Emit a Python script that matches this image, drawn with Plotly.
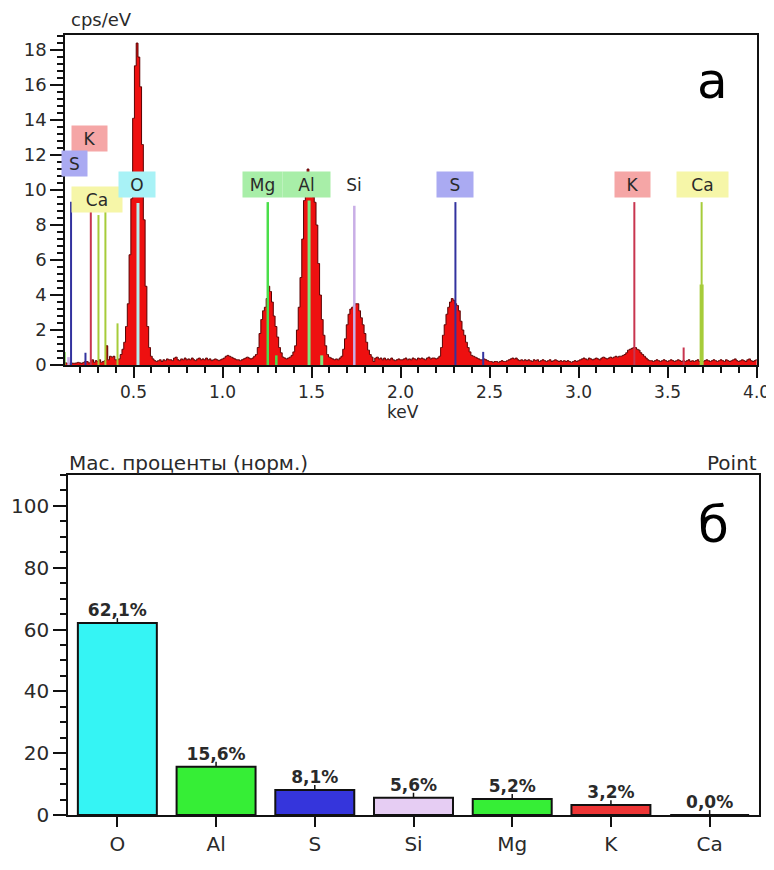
import plotly.graph_objects as go

# ---------------- DATA ----------------
# EDS spectrum, channel width 0.01 keV, first channel at 0.11 keV (cps/eV)
spec_start_kev = 0.11
spec_step_kev = 0.01
spectrum_cps = [
    0.15, 0.12, 0.10, 0.10, 0.12, 0.10, 0.10, 0.12, 0.15, 0.12,   # 0.11-0.20
    0.10, 0.15, 0.20, 0.20, 0.12, 0.15, 0.30, 0.15, 0.25, 0.20,   # 0.21-0.30
    0.30, 0.15, 0.20, 0.25, 1.10, 0.30, 0.50, 0.45, 0.50, 0.30,   # 0.31-0.40
    0.30, 0.35, 0.60, 0.90, 1.30, 2.20, 3.50, 6.30, 9.50, 14.1,   # 0.41-0.50
    17.1, 18.4, 17.6, 15.9, 12.6, 8.3, 4.5, 2.2, 1.00, 0.50,      # 0.51-0.60
    0.35, 0.25, 0.20, 0.25, 0.30, 0.20, 0.30, 0.25, 0.35, 0.30,   # 0.61-0.70
    0.30, 0.25, 0.40, 0.45, 0.30, 0.25, 0.35, 0.30, 0.40, 0.30,   # 0.71-0.80
    0.35, 0.30, 0.40, 0.30, 0.25, 0.35, 0.40, 0.30, 0.35, 0.30,   # 0.81-0.90
    0.40, 0.30, 0.35, 0.25, 0.30, 0.35, 0.30, 0.25, 0.30, 0.35,   # 0.91-1.00
    0.40, 0.50, 0.55, 0.50, 0.45, 0.40, 0.35, 0.30, 0.30, 0.25,   # 1.01-1.10
    0.30, 0.35, 0.40, 0.45, 0.40, 0.35, 0.40, 0.50, 0.60, 1.00,   # 1.11-1.20
    1.80, 2.60, 3.10, 3.30, 3.80, 4.50, 4.20, 3.60, 2.80, 2.20,   # 1.21-1.30
    1.60, 1.00, 0.70, 0.45, 0.40, 0.35, 0.40, 0.45, 0.55, 0.75,   # 1.31-1.40
    1.10, 2.00, 3.30, 5.00, 7.20, 9.40, 10.6, 11.2, 11.0, 10.3,   # 1.41-1.50
    9.60, 9.30, 8.00, 5.80, 4.00, 2.60, 1.70, 1.10, 0.60, 0.45,   # 1.51-1.60
    0.40, 0.35, 0.30, 0.35, 0.30, 0.40, 0.50, 0.90, 1.50, 2.30,   # 1.61-1.70
    2.90, 3.20, 3.30, 3.40, 3.50, 3.50, 3.10, 2.70, 2.30, 1.80,   # 1.71-1.80
    1.30, 0.85, 0.60, 0.45, 0.20, 0.40, 0.45, 0.35, 0.40, 0.30,   # 1.81-1.90
    0.40, 0.30, 0.35, 0.30, 0.40, 0.30, 0.25, 0.30, 0.35, 0.30,   # 1.91-2.00
    0.30, 0.35, 0.40, 0.30, 0.35, 0.30, 0.40, 0.35, 0.30, 0.40,   # 2.01-2.10
    0.35, 0.40, 0.35, 0.30, 0.40, 0.45, 0.35, 0.40, 0.40, 0.35,   # 2.11-2.20
    0.40, 0.50, 1.00, 1.70, 2.30, 2.90, 3.30, 3.60, 3.80, 3.70,   # 2.21-2.30
    3.50, 3.40, 3.10, 2.50, 2.00, 1.70, 1.30, 1.00, 0.75, 0.55,   # 2.31-2.40
    0.50, 0.45, 0.40, 0.35, 0.30, 0.30, 0.35, 0.30, 0.25, 0.20,   # 2.41-2.50
    0.20, 0.15, 0.20, 0.20, 0.15, 0.20, 0.25, 0.20, 0.20, 0.25,   # 2.51-2.60
    0.30, 0.35, 0.40, 0.35, 0.40, 0.30, 0.25, 0.30, 0.25, 0.30,   # 2.61-2.70
    0.25, 0.30, 0.25, 0.20, 0.30, 0.25, 0.30, 0.20, 0.25, 0.30,   # 2.71-2.80
    0.25, 0.20, 0.25, 0.30, 0.20, 0.25, 0.30, 0.25, 0.20, 0.25,   # 2.81-2.90
    0.20, 0.25, 0.20, 0.25, 0.20, 0.15, 0.20, 0.25, 0.20, 0.25,   # 2.91-3.00
    0.30, 0.35, 0.40, 0.35, 0.30, 0.40, 0.35, 0.30, 0.35, 0.40,   # 3.01-3.10
    0.35, 0.30, 0.40, 0.45, 0.40, 0.35, 0.40, 0.45, 0.40, 0.45,   # 3.11-3.20
    0.50, 0.45, 0.50, 0.50, 0.55, 0.60, 0.70, 0.85, 0.90, 0.95,   # 3.21-3.30
    1.00, 1.00, 0.90, 0.85, 0.70, 0.60, 0.50, 0.40, 0.30, 0.25,   # 3.31-3.40
    0.25, 0.20, 0.25, 0.30, 0.25, 0.20, 0.25, 0.30, 0.25, 0.20,   # 3.41-3.50
    0.25, 0.30, 0.25, 0.20, 0.25, 0.30, 0.25, 0.20, 0.25, 0.20,   # 3.51-3.60
    0.25, 0.30, 0.20, 0.25, 0.20, 0.25, 0.30, 0.20, 0.15, 0.20,   # 3.61-3.70
    0.25, 0.30, 0.25, 0.20, 0.25, 0.30, 0.25, 0.20, 0.25, 0.30,   # 3.71-3.80
    0.25, 0.20, 0.30, 0.25, 0.20, 0.25, 0.30, 0.35, 0.25, 0.20,   # 3.81-3.90
    0.25, 0.30, 0.25, 0.20, 0.30, 0.35, 0.25, 0.20, 0.25, 0.30,   # 3.91-4.00
]

# element line markers: energy (keV), marker height (cps/eV), element
line_energy = [0.113, 0.135, 0.149, 0.230, 0.260, 0.303, 0.342, 0.410, 0.525,
               1.254, 1.302, 1.486, 1.557, 1.740, 2.308, 2.464, 3.313, 3.590,
               3.691, 3.691]
line_height = [0.75, 0.45, 9.33, 0.70, 8.76, 8.57, 8.76, 2.38, 9.26,
               9.31, 0.55, 9.40, 0.55, 9.10, 9.31, 0.75, 9.31, 1.00,
               9.31, 4.60]
line_element = ["C", "Si", "S", "S", "K", "Ca", "Ca", "Ca", "O",
                "Mg", "Mg", "Al", "Al", "Si", "S", "S", "K", "K",
                "Ca", "Ca"]

# element label boxes: text, energy (keV), level (cps/eV)
label_text = ["K", "S", "Ca", "O", "Mg", "Al", "Si", "S", "K", "Ca"]
label_energy = [0.255, 0.171, 0.297, 0.522, 1.223, 1.471, 1.738, 2.306, 3.305, 3.694]
label_level = [12.97, 11.54, 9.46, 10.29, 10.31, 10.31, 10.31, 10.31, 10.31, 10.31]

# quantification (mass %, normalised)
elements = ["O", "Al", "S", "Si", "Mg", "K", "Ca"]
mass_pct = [62.1, 15.6, 8.1, 5.6, 5.2, 3.2, 0.0]

x_tick_vals = [0.5, 1.0, 1.5, 2.0, 2.5, 3.0, 3.5, 4.0]
x_tick_text = ["0.5", "1.0", "1.5", "2.0", "2.5", "3.0", "3.5", "4.0"]

# ---------------- STYLE ----------------
FONT = "DejaVu Sans"
TXT = "#2a2a2a"
line_colors = {"C": "#66cc33", "Si": "#c9aee6", "S": "#33339f", "K": "#c8354f",
               "Ca": "#a6cc3a", "O": "#b4f0f0", "Mg": "#4ade4a", "Al": "#7ee87e"}
line_widths = {"C": 2, "Si": 2.5, "S": 2, "K": 2, "Ca": 2, "O": 3, "Mg": 2.5, "Al": 3}
box_colors = {"K": "#f5a6a6", "S": "#aaaaf2", "Ca": "#f6f6a8", "O": "#a8f2f6",
              "Mg": "#a8eea8", "Al": "#a8eea8", "Si": "#ffffff"}
box_widths = [35, 25, 50, 36, 39, 47, 32, 36, 35, 51]
bar_colors = {"O": "#35f4f4", "Al": "#36ee36", "S": "#3535dc", "Si": "#e6cdf3",
              "Mg": "#36ee36", "K": "#ee3535", "Ca": "#f2f27a"}

# the page body has an 8 px margin: figure is placed at (8, 8) in the window
OFF = 8
W, H = 774 - OFF, 870 - OFF

def px(xp):
    return (xp - OFF) / W

def py(yp):
    return 1 - (yp - OFF) / H

fig = go.Figure()

# spectrum
fig.add_trace(go.Scatter(
    x0=spec_start_kev, dx=spec_step_kev, y=spectrum_cps,
    mode="lines", line=dict(shape="hvh", color="#5a0000", width=1),
    fill="tozeroy", fillcolor="#ee1010",
    xaxis="x", yaxis="y", showlegend=False, hoverinfo="skip"))

# line markers
for e, h, el in zip(line_energy, line_height, line_element):
    w = line_widths[el]
    if el == "Ca" and h < 5 and e > 3:
        w = 4
    fig.add_trace(go.Scatter(
        x=[e, e], y=[0, h], mode="lines",
        line=dict(color=line_colors[el], width=w),
        xaxis="x", yaxis="y", showlegend=False, hoverinfo="skip"))

# bar chart
bar_text = [f"{v:.1f}%".replace(".", ",") for v in mass_pct]
fig.add_trace(go.Bar(
    x=elements, y=mass_pct, width=0.8,
    marker=dict(color=[bar_colors[e] for e in elements],
                line=dict(color="#111111", width=2)),
    text=bar_text, textposition="outside", cliponaxis=False,
    textfont=dict(family=FONT, size=17, color=TXT, weight="bold"),
    error_y=dict(type="data", symmetric=False,
                 array=[1.6] * len(elements), arrayminus=[0] * len(elements),
                 color="#111111", thickness=1.5, width=0),
    xaxis="x2", yaxis="y2", showlegend=False, hoverinfo="skip"))

annotations = []
for t, e, lv, bw in zip(label_text, label_energy, label_level, box_widths):
    annotations.append(dict(
        x=e, y=lv, xref="x", yref="y", text=t, showarrow=False,
        bgcolor=box_colors[t], width=bw, height=25, borderpad=0,
        font=dict(family=FONT, size=17, color=TXT),
        xanchor="center", yanchor="middle"))

annotations += [
    dict(x=px(69), y=py(20), xref="paper", yref="paper", text="cps/eV",
         showarrow=False, xanchor="left", yanchor="middle",
         font=dict(family=FONT, size=18, color=TXT)),
    dict(x=px(403), y=py(412), xref="paper", yref="paper", text="keV",
         showarrow=False, xanchor="center", yanchor="middle",
         font=dict(family=FONT, size=17, color=TXT)),
    dict(x=px(712), y=py(81), xref="paper", yref="paper", text="а",
         showarrow=False, xanchor="center", yanchor="middle",
         font=dict(family=FONT, size=50, color="#000000")),
    dict(x=px(67), y=py(463), xref="paper", yref="paper",
         text="Мас. проценты (норм.)",
         showarrow=False, xanchor="left", yanchor="middle",
         font=dict(family=FONT, size=20, color=TXT)),
    dict(x=px(759), y=py(463), xref="paper", yref="paper", text="Point",
         showarrow=False, xanchor="right", yanchor="middle",
         font=dict(family=FONT, size=20, color=TXT)),
    dict(x=px(713), y=py(525), xref="paper", yref="paper", text="б",
         showarrow=False, xanchor="center", yanchor="middle",
         font=dict(family=FONT, size=50, color="#000000")),
]

axis_common = dict(showline=True, linecolor="#111111", linewidth=1.5, mirror=True,
                   showgrid=False, zeroline=False, ticks="outside",
                   tickcolor="#111111", tickwidth=1.5, automargin=False,
                   ticklabeloverflow="allow")

fig.update_layout(
    template="none",
    width=W, height=H,
    margin=dict(l=0, r=0, t=0, b=0, pad=0),
    paper_bgcolor="white", plot_bgcolor="white",
    showlegend=False,
    xaxis=dict(domain=[px(65), px(757)], anchor="y", range=[0.115, 4.002],
               tickvals=x_tick_vals, ticktext=x_tick_text, ticklen=11,
               minor=dict(dtick=0.1, tick0=0, ticklen=6, ticks="outside",
                          tickcolor="#111111", tickwidth=1.5),
               tickfont=dict(family=FONT, size=17, color=TXT), **axis_common),
    yaxis=dict(domain=[py(365), py(35)], anchor="x", range=[0, 18.86],
               tickmode="linear", tick0=0, dtick=2, ticklen=13,
               minor=dict(dtick=0.4, tick0=0, ticklen=6, ticks="outside",
                          tickcolor="#111111", tickwidth=1.5),
               tickfont=dict(family=FONT, size=18, color=TXT), **axis_common),
    xaxis2=dict(domain=[px(68), px(759)], anchor="y2", type="category",
                range=[-0.5, 6.5], ticklen=10,
                tickfont=dict(family=FONT, size=20, color=TXT), **axis_common),
    yaxis2=dict(domain=[py(815), py(475)], anchor="x2", range=[0, 110],
                tickmode="linear", tick0=0, dtick=20, ticklen=13,
                minor=dict(dtick=5, tick0=0, ticklen=6, ticks="outside",
                           tickcolor="#111111", tickwidth=1.5),
                tickfont=dict(family=FONT, size=20, color=TXT), **axis_common),
    annotations=annotations,
)

fig.write_html("out.html")
